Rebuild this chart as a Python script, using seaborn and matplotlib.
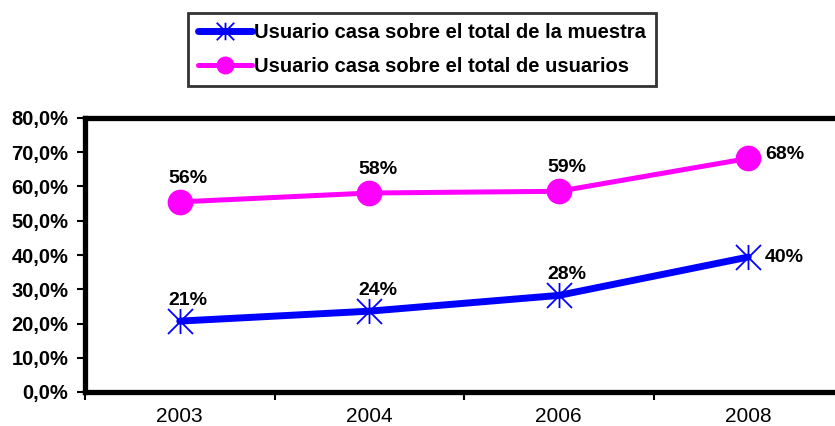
import pandas as pd
import matplotlib
matplotlib.use("Agg")
import matplotlib.pyplot as plt
from matplotlib.path import Path
from matplotlib.ticker import FixedLocator
import seaborn as sns

years = ["2003", "2004", "2006", "2008"]
muestra = [20.7, 23.6, 28.2, 39.4]
usuarios = [55.5, 58.1, 58.6, 68.2]
muestra_labels = ["21%", "24%", "28%", "40%"]
usuarios_labels = ["56%", "58%", "59%", "68%"]
y_ticks = [0, 10, 20, 30, 40, 50, 60, 70, 80]
y_tick_labels = ["0,0%", "10,0%", "20,0%", "30,0%", "40,0%",
                 "50,0%", "60,0%", "70,0%", "80,0%"]
name_muestra = "Usuario casa sobre el total de la muestra"
name_usuarios = "Usuario casa sobre el total de usuarios"

BLUE = "#0000FF"
PINK = "#FF00FF"

# asterisco tipo Excel: X + linea vertical
star = Path([(-1, -1), (1, 1), (-1, 1), (1, -1), (0, -1), (0, 1)],
            [Path.MOVETO, Path.LINETO, Path.MOVETO, Path.LINETO,
             Path.MOVETO, Path.LINETO])

df_m = pd.DataFrame({"year": years, "value": muestra})
df_u = pd.DataFrame({"year": years, "value": usuarios})

sns.set_style("white", {"text.color": "black", "xtick.color": "black",
                        "ytick.color": "black", "axes.labelcolor": "black"})
plt.rcParams["font.family"] = ["Liberation Sans", "DejaVu Sans"]

fig = plt.figure(figsize=(8.35, 4.26), dpi=100)
ax = fig.add_axes([85 / 835, 34 / 426, 758 / 835, 274 / 426])

sns.lineplot(data=df_m, x="year", y="value", ax=ax, color=BLUE, linewidth=5,
             marker=star, markersize=18, markeredgewidth=1.3,
             markeredgecolor=BLUE, markerfacecolor="none",
             label=name_muestra, sort=False)
sns.lineplot(data=df_u, x="year", y="value", ax=ax, color=PINK, linewidth=3.6,
             marker="o", markersize=18.5, markeredgewidth=0,
             label=name_usuarios, sort=False)

# etiquetas de datos (la ultima a la derecha del punto)
lab_kw = dict(textcoords="offset points", fontsize=14, fontweight="bold",
              color="black")
for i, (vm, vu) in enumerate(zip(muestra, usuarios)):
    if i == len(years) - 1:
        ax.annotate(muestra_labels[i], (i, vm), xytext=(12, 0),
                    ha="left", va="center", **lab_kw)
        ax.annotate(usuarios_labels[i], (i, vu), xytext=(12, 3),
                    ha="left", va="center", **lab_kw)
    else:
        ax.annotate(muestra_labels[i], (i, vm), xytext=(6, 9),
                    ha="center", va="bottom", **lab_kw)
        ax.annotate(usuarios_labels[i], (i, vu), xytext=(6, 11),
                    ha="center", va="bottom", **lab_kw)

ax.set_xlim(-0.5, 3.5)
ax.set_ylim(0, 80)
ax.set_xlabel("")
ax.set_ylabel("")

ax.set_yticks(y_ticks)
ax.set_yticklabels(y_tick_labels, fontsize=14.5, fontweight="bold")
ax.tick_params(axis="y", direction="out", length=6, width=1.5, pad=6, left=True)

# marcas entre categorias, etiquetas centradas
ax.xaxis.set_major_locator(FixedLocator([-0.5, 0.5, 1.5, 2.5, 3.5]))
ax.xaxis.set_major_formatter(plt.NullFormatter())
ax.xaxis.set_minor_locator(FixedLocator(range(len(years))))
ax.set_xticklabels(years, minor=True, fontsize=15)
ax.tick_params(axis="x", which="major", direction="out", length=6, width=1.5,
               bottom=True)
ax.tick_params(axis="x", which="minor", length=0, pad=11)

for s in ax.spines.values():
    s.set_visible(True)
    s.set_color("black")
    s.set_linewidth(3.8)

ax.get_legend().remove()
handles, labels = ax.get_legend_handles_labels()
leg = fig.legend(handles, labels, loc="upper center",
                 bbox_to_anchor=(422 / 835, 1 - 13 / 426),
                 prop={"weight": "bold", "size": 14.5}, frameon=True,
                 fancybox=False, handlelength=2.7, handletextpad=0.1,
                 borderpad=0.5, labelspacing=0.75, borderaxespad=0,
                 markerscale=0.7)
leg.get_frame().set_edgecolor("black")
leg.get_frame().set_linewidth(2)

fig.savefig("out.png", dpi=100)
